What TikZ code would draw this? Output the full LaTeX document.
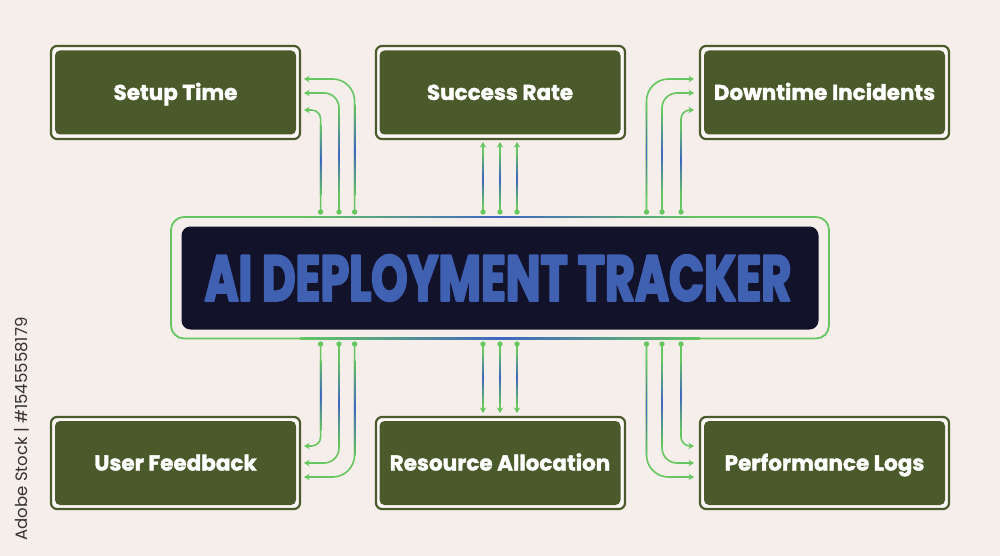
\documentclass[tikz,border=0pt]{standalone}
\usepackage{fontspec}
\setmainfont{Poppins}
\newfontfamily\titlefont[FakeStretch=.71,FakeBold=3]{Poppins}
\newfontfamily\labelfont[FakeBold=1.6]{Poppins}
\usetikzlibrary{arrows.meta}
\definecolor{bgpink}{HTML}{F6EEEB}
\definecolor{olivebox}{HTML}{4B5A2A}
\definecolor{navybox}{HTML}{12122B}
\definecolor{linkgreen}{HTML}{66C660}
\definecolor{linkblue}{HTML}{3F66C0}
\definecolor{titleblue}{HTML}{4060B2}
\tikzset{
	metricbox/.style={fill=olivebox,rounded corners=5pt,minimum width=241pt,minimum height=84pt,inner sep=0pt,text=white,text height=17pt,text depth=2pt,font=\fontsize{21.5}{21.5}\labelfont\bfseries},
	metricframe/.style={draw=olivebox,fill=white!55!bgpink,line width=2.2pt,rounded corners=6pt},
	link/.style={draw=linkgreen,line width=1.6pt,-{Stealth[length=5.5pt,width=6.5pt]}},
	linkdot/.style={fill=linkgreen,draw=none},
}
% vertical colour run laid over a straight stretch of a link
\newcommand{\blueRun}[3]{\shade[top color=linkgreen,bottom color=linkgreen,middle color=linkblue] (#1-.7,#2) rectangle (#1+.7,#3);}
\begin{document}
\begin{tikzpicture}[x=1pt,y=-1pt,line join=round]
	\fill[bgpink] (0,0) rectangle (1000,556);
	\useasboundingbox (0,0) rectangle (1000,556);
	% centre
	\draw[linkgreen,line width=1.8pt,rounded corners=13pt] (171,217) rectangle (829,338.5);
	\shade[left color=linkgreen,right color=linkgreen,middle color=linkblue] (300,216.3) rectangle (700,217.7);
	\shade[left color=linkgreen,right color=linkgreen,middle color=linkblue] (300,337.8) rectangle (700,339.2);
	\node[fill=navybox,rounded corners=9pt,minimum width=637pt,minimum height=103pt,inner sep=0pt] (tracker) at (500,278) {};
	\node[text=titleblue,font=\fontsize{65}{65}\titlefont\bfseries,xshift=-2pt] (title) at (tracker) {AI DEPLOYMENT TRACKER};
	% metric boxes
	\draw[metricframe] (51,46) rectangle (300,139) (376,46) rectangle (625,139) (700,46) rectangle (949,139);
	\draw[metricframe] (51,417) rectangle (300,509) (376,417) rectangle (625,509) (700,417) rectangle (949,509);
	\node[metricbox] (setup) at (175.5,92.5) {Setup Time};
	\node[metricbox] (success) at (500,92.5) {Success Rate};
	\node[metricbox] (downtime) at (824.5,92.5) {Downtime Incidents};
	\node[metricbox] (feedback) at (175.5,463) {User Feedback};
	\node[metricbox] (resource) at (500,463) {Resource Allocation};
	\node[metricbox] (logs) at (824.5,463) {Performance Logs};
	% free ends along the tracker frame
	\foreach \n/\x in {a/320.6,b/339,c/354.6,d/483,e/500,f/517,g/646.5,h/662,i/681}{
		\coordinate (T\n) at (\x,212);
		\coordinate (B\n) at (\x,344);
		\fill[linkdot] (T\n) circle (2.7pt) (B\n) circle (2.7pt);
	}
	% arrow ends at the boxes
	\coordinate (Sa) at (304,110);
	\coordinate (Sb) at (304,93);
	\coordinate (Sc) at (304,79);
	\coordinate (Da) at (694,110);
	\coordinate (Db) at (694,93);
	\coordinate (Dc) at (694,79);
	\coordinate (Fa) at (304,446);
	\coordinate (Fb) at (304,463);
	\coordinate (Fc) at (304,477);
	\coordinate (La) at (694,446);
	\coordinate (Lb) at (694,463);
	\coordinate (Lc) at (694,477);
	\coordinate (Ud) at (483,142);
	\coordinate (Ue) at (500,142);
	\coordinate (Uf) at (517,142);
	\coordinate (Wd) at (483,413);
	\coordinate (We) at (500,413);
	\coordinate (Wf) at (517,413);
	\draw[link,rounded corners=9pt] (Ta) |- (Sa);
	\draw[link,rounded corners=15pt] (Tb) |- (Sb);
	\draw[link,rounded corners=22pt] (Tc) |- (Sc);
	\draw[link,rounded corners=9pt] (Ti) |- (Da);
	\draw[link,rounded corners=15pt] (Th) |- (Db);
	\draw[link,rounded corners=22pt] (Tg) |- (Dc);
	\draw[link,rounded corners=9pt] (Ba) |- (Fa);
	\draw[link,rounded corners=15pt] (Bb) |- (Fb);
	\draw[link,rounded corners=22pt] (Bc) |- (Fc);
	\draw[link,rounded corners=9pt] (Bi) |- (La);
	\draw[link,rounded corners=15pt] (Bh) |- (Lb);
	\draw[link,rounded corners=22pt] (Bg) |- (Lc);
	\draw[link] (Td) -- (Ud);
	\draw[link] (Te) -- (Ue);
	\draw[link] (Tf) -- (Uf);
	\draw[link] (Bd) -- (Wd);
	\draw[link] (Be) -- (We);
	\draw[link] (Bf) -- (Wf);
	% blue runs
	\foreach \x in {320.6,681}{\blueRun{\x}{125}{195}\blueRun{\x}{360}{430}}
	\foreach \x in {339,662}{\blueRun{\x}{112}{195}\blueRun{\x}{360}{445}}
	\foreach \x in {354.6,646.5}{\blueRun{\x}{105}{195}\blueRun{\x}{360}{455}}
	\foreach \x in {483,500,517}{\blueRun{\x}{152}{205}\blueRun{\x}{351}{404}}
	% stock label
	\node[rotate=90,text=black!80,font=\fontsize{16.5}{16.5}\selectfont,inner sep=0pt] (stockid) at (22,429) {Adobe Stock | \#1545558179};
\end{tikzpicture}
\end{document}
